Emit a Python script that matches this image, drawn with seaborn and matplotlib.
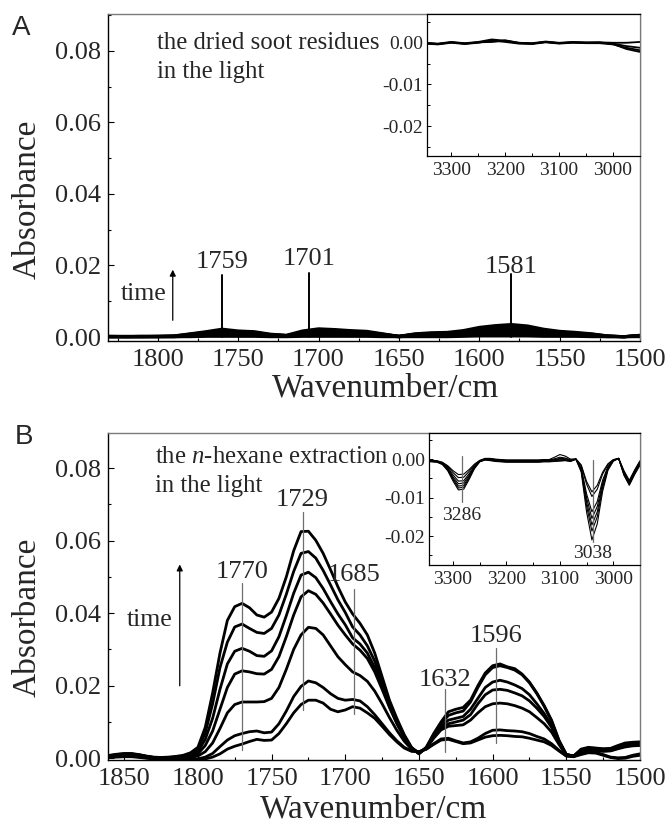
import numpy as np
import matplotlib
matplotlib.use('Agg')
import matplotlib.pyplot as plt
import seaborn as sns
from matplotlib.ticker import MultipleLocator, FormatStrFormatter

sns.set_theme(style='ticks')
plt.rcParams['font.family'] = ['Liberation Serif', 'DejaVu Serif']
plt.rcParams['mathtext.fontset'] = 'custom'
plt.rcParams['mathtext.rm'] = 'Liberation Serif'
plt.rcParams['mathtext.it'] = 'Liberation Serif:italic'
plt.rcParams['axes.unicode_minus'] = False

# ---------------- panel A : dried soot residues (1830 -> 1500, step 10)
wn_a = np.arange(1830, 1499, -10)
soot_curves = [
    [.0002, .0002, .0002, .0002, .0003, .0009, .0015, .0022, .0017, .0015, .0008, .0005, .0017, .0023, .0021, .0018, .0016,
     .0009, .0002, .0009, .0012, .0013, .0018, .0027, .0032, .0035, .0031, .0022, .0016, .0013, .0009, .0003, .0001, .0005],
    [.0002, .0001, .0002, .0002, .0003, .0008, .0013, .0019, .0015, .0013, .0007, .0004, .0014, .0020, .0019, .0016, .0014,
     .0008, .0002, .0008, .0010, .0011, .0016, .0023, .0028, .0030, .0027, .0019, .0014, .0011, .0008, .0003, .0001, .0004],
    [.0001, .0001, .0001, .0002, .0002, .0006, .0011, .0016, .0012, .0011, .0006, .0004, .0011, .0016, .0015, .0013, .0012,
     .0007, .0002, .0007, .0009, .0009, .0013, .0019, .0023, .0025, .0022, .0016, .0012, .0010, .0007, .0002, .0001, .0004],
    [.0001, .0001, .0001, .0001, .0002, .0005, .0008, .0012, .0010, .0008, .0005, .0003, .0009, .0012, .0012, .0010, .0009,
     .0006, .0002, .0006, .0007, .0007, .0010, .0015, .0018, .0019, .0017, .0012, .0009, .0008, .0005, .0002, .0001, .0003],
    [.0001, .0001, .0001, .0001, .0001, .0004, .0006, .0009, .0007, .0006, .0004, .0003, .0006, .0009, .0009, .0007, .0007,
     .0004, .0001, .0004, .0005, .0005, .0007, .0011, .0013, .0014, .0012, .0009, .0007, .0006, .0004, .0002, .0001, .0003],
    [.0001, .0001, .0001, .0001, .0001, .0002, .0004, .0005, .0004, .0004, .0002, .0002, .0004, .0005, .0005, .0004, .0004,
     .0003, .0001, .0003, .0003, .0003, .0004, .0007, .0008, .0008, .0007, .0005, .0004, .0004, .0003, .0001, .0001, .0002],
    [.0001, .0001, .0001, .0001, .0001, .0001, .0002, .0002, .0002, .0002, .0001, .0001, .0002, .0002, .0002, .0002, .0002,
     .0001, .0001, .0001, .0001, .0001, .0002, .0003, .0003, .0003, .0003, .0002, .0002, .0002, .0001, .0001, .0001, .0001],
]
soot_peaks = ['1759', '1701', '1581']
soot_peak_pos = [1760, 1706, 1580]
soot_line_top = [0.0173, 0.0179, 0.0176]
soot_label_y = [0.0210, 0.0218, 0.0196]

# inset A (3350 -> 2950, step 25)
wn_ia = np.arange(3350, 2949, -25)
soot_ch = [
    [0, -.0003, .0001, -.0002, .0001, .0003, .0004, -.0001, -.0002, .0002, -.0001, .0001, .0, .0, -.0002, -.0008, -.0012],
    [-.0002, -.0004, 0, -.0003, .0, .0006, .0002, -.0002, -.0003, .0001, -.0002, .0, -.0001, -.0001, -.0004, -.0012, -.0018],
    [.0, -.0002, .0002, -.0001, .0002, .0008, .0005, .0, -.0001, .0003, .0, .0002, .0001, .0001, -.0003, -.0015, -.0022],
    [-.0001, -.0003, .0001, -.0002, .0001, .0002, .0006, .0, -.0002, .0002, -.0001, .0001, .0, .0001, .0, .0, .0002],
]

# ---------------- panel B : n-hexane extraction (1860 -> 1500, step 5)
wn_b = np.arange(1860, 1499, -5)
hexane_curves = [
    # longest time
    [.0008, .0011, .0013, .0013, .0010, .0006, .0003, .0002, .0003, .0005,
     .0008, .0015, .0030, .0085, .0180, .0290, .0380, .0418, .0427, .0415,
     .0395, .0389, .0403, .0441, .0500, .0572, .0625, .0626, .0601, .0565,
     .0520, .0473, .0431, .0398, .0372, .0340, .0290, .0225, .0160, .0110,
     .0065, .0030, .0013,
     .0030, .0068, .0100, .0128, .0135, .0140, .0160, .0200, .0235, .0255,
     .0260, .0252, .0247, .0232, .0210, .0180, .0145, .0105, .0050, .0010,
     .0006, .0025, .0030, .0028, .0026, .0027, .0035, .0042, .0044, .0045],
    [.0007, .0010, .0012, .0012, .0009, .0005, .0002, .0001, .0002, .0003,
     .0006, .0012, .0025, .0070, .0150, .0250, .0320, .0362, .0370, .0358,
     .0347, .0344, .0358, .0395, .0452, .0515, .0565, .0570, .0552, .0518,
     .0478, .0437, .0402, .0362, .0340, .0310, .0268, .0210, .0150, .0105,
     .0062, .0028, .0012,
     .0030, .0065, .0095, .0118, .0125, .0130, .0155, .0195, .0230, .0250,
     .0255, .0250, .0243, .0230, .0208, .0178, .0143, .0102, .0048, .0010,
     .0006, .0023, .0028, .0027, .0025, .0026, .0033, .0040, .0042, .0043],
    [.0006, .0009, .0011, .0011, .0009, .0005, .0002, .0001, .0001, .0002,
     .0004, .0008, .0018, .0052, .0110, .0190, .0260, .0295, .0303, .0295,
     .0283, .0281, .0296, .0335, .0393, .0455, .0505, .0513, .0498, .0468,
     .0432, .0398, .0368, .0332, .0315, .0290, .0250, .0198, .0143, .0098,
     .0058, .0027, .0013,
     .0028, .0060, .0088, .0105, .0110, .0115, .0135, .0165, .0195, .0210,
     .0215, .0210, .0202, .0192, .0175, .0150, .0123, .0090, .0045, .0010,
     .0006, .0020, .0025, .0025, .0022, .0023, .0030, .0036, .0040, .0040],
    [.0005, .0008, .0010, .0010, .0008, .0004, .0001, .0000, .0000, .0001,
     .0002, .0005, .0012, .0035, .0075, .0135, .0195, .0232, .0241, .0238,
     .0233, .0232, .0245, .0280, .0335, .0395, .0445, .0462, .0452, .0428,
     .0398, .0367, .0340, .0315, .0298, .0275, .0238, .0190, .0140, .0095,
     .0057, .0028, .0015,
     .0028, .0057, .0082, .0095, .0100, .0105, .0120, .0150, .0175, .0188,
     .0190, .0187, .0180, .0172, .0158, .0138, .0115, .0085, .0043, .0010,
     .0006, .0018, .0023, .0023, .0020, .0021, .0027, .0033, .0036, .0037],
    [.0004, .0007, .0008, .0008, .0006, .0003, .0000, -.0001, -.0001, -.0001,
     .0000, .0002, .0006, .0018, .0042, .0082, .0125, .0148, .0155, .0155,
     .0155, .0156, .0165, .0195, .0245, .0300, .0340, .0361, .0358, .0340,
     .0310, .0280, .0258, .0238, .0228, .0212, .0185, .0150, .0112, .0077,
     .0047, .0025, .0016,
     .0027, .0055, .0078, .0088, .0090, .0092, .0105, .0125, .0142, .0150,
     .0152, .0150, .0145, .0138, .0128, .0112, .0095, .0072, .0038, .0008,
     .0005, .0017, .0022, .0022, .0019, .0020, .0026, .0031, .0034, .0035],
    [.0003, .0005, .0006, .0006, .0004, .0001, -.0001, -.0002, -.0002, -.0003,
     -.0003, -.0003, -.0002, .0003, .0013, .0032, .0050, .0062, .0068, .0073,
     .0075, .0070, .0072, .0095, .0130, .0170, .0198, .0213, .0208, .0195,
     .0178, .0165, .0160, .0162, .0158, .0142, .0120, .0095, .0070, .0048,
     .0030, .0020, .0018,
     .0025, .0040, .0053, .0055, .0048, .0042, .0045, .0055, .0068, .0077,
     .0078, .0076, .0075, .0073, .0068, .0060, .0053, .0040, .0022, .0006,
     .0005, .0012, .0018, .0017, .0010, .0003, .0001, .0002, .0008, .0012],
    # shortest time
    [.0002, .0003, .0004, .0004, .0002, .0000, -.0002, -.0003, -.0003, -.0004,
     -.0004, -.0004, -.0004, -.0002, .0003, .0012, .0025, .0033, .0039, .0046,
     .0052, .0049, .0050, .0068, .0095, .0125, .0148, .0160, .0160, .0152,
     .0135, .0128, .0133, .0142, .0138, .0125, .0110, .0088, .0065, .0045,
     .0028, .0019, .0018,
     .0025, .0038, .0050, .0052, .0046, .0040, .0042, .0050, .0058, .0062,
     .0063, .0062, .0060, .0059, .0055, .0050, .0045, .0035, .0020, .0006,
     .0004, .0010, .0015, .0014, .0008, .0002, -.0001, .0000, .0005, .0008],
]
hexane_peaks = ['1770', '1729', '1685', '1632', '1596']
hexane_peak_pos = [1770, 1729, 1694, 1632, 1598]
hexane_line_bottom = [0.0022, 0.0132, 0.0123, 0.0017, 0.0041]
hexane_line_top = [0.0482, 0.0680, 0.0468, 0.0192, 0.0303]
hexane_label_y = [0.0514, 0.0712, 0.0505, 0.0217, 0.0337]

# inset B (3350 -> 2950, step 10)
wn_ib = np.arange(3350, 2949, -10)
hexane_ch = [
    [-.0003, -.0003, -.0004, -.0008, -.0017, -.0030, -.0040, -.0039, -.0027, -.0013, -.0003, .0002, .0002, .0000,
     -.0001, -.0002, -.0002, -.0002, -.0002, -.0002, -.0002, -.0002, -.0001, -.0001, .0005, .0012, .0008, .0000,
     .0001, -.0015, -.0058, -.0085, -.0068, -.0034, -.0012, -.0001, .0002, -.0030, -.0055, -.0028, -.0004],
    [-.0004, -.0004, -.0005, -.0009, -.0019, -.0035, -.0048, -.0047, -.0032, -.0015, -.0004, .0001, .0001, -.0001,
     -.0002, -.0003, -.0003, -.0003, -.0003, -.0003, -.0003, -.0003, -.0002, -.0002, .0001, .0005, .0003, -.0002,
     .0000, -.0017, -.0065, -.0097, -.0078, -.0039, -.0014, -.0002, .0002, -.0032, -.0058, -.0030, -.0006],
    [-.0004, -.0005, -.0006, -.0010, -.0022, -.0041, -.0057, -.0056, -.0038, -.0018, -.0005, .0000, .0000, -.0002,
     -.0003, -.0004, -.0004, -.0004, -.0004, -.0004, -.0004, -.0004, -.0003, -.0003, -.0001, .0002, .0001, -.0003,
     .0000, -.0022, -.0090, -.0137, -.0110, -.0055, -.0019, -.0003, .0002, -.0035, -.0060, -.0032, -.0008],
    [-.0005, -.0005, -.0006, -.0011, -.0024, -.0046, -.0064, -.0062, -.0042, -.0020, -.0005, .0000, -.0001, -.0003,
     -.0004, -.0005, -.0005, -.0005, -.0005, -.0005, -.0005, -.0005, -.0004, -.0004, -.0002, .0000, -.0001, -.0004,
     .0000, -.0025, -.0100, -.0154, -.0123, -.0062, -.0021, -.0004, .0002, -.0037, -.0062, -.0034, -.0010],
    [-.0005, -.0006, -.0007, -.0012, -.0026, -.0050, -.0070, -.0068, -.0046, -.0021, -.0006, -.0001, -.0002, -.0004,
     -.0005, -.0006, -.0006, -.0006, -.0006, -.0006, -.0006, -.0006, -.0005, -.0005, -.0004, -.0002, -.0002, -.0005,
     .0000, -.0027, -.0111, -.0171, -.0137, -.0068, -.0024, -.0004, .0002, -.0039, -.0064, -.0036, -.0012],
    [-.0006, -.0006, -.0007, -.0013, -.0028, -.0053, -.0075, -.0073, -.0049, -.0023, -.0006, -.0002, -.0003, -.0005,
     -.0006, -.0007, -.0007, -.0007, -.0007, -.0007, -.0007, -.0007, -.0006, -.0006, -.0005, -.0004, -.0003, -.0005,
     .0000, -.0030, -.0122, -.0187, -.0150, -.0075, -.0026, -.0005, .0002, -.0040, -.0066, -.0038, -.0014],
    [-.0006, -.0007, -.0008, -.0014, -.0030, -.0057, -.0080, -.0078, -.0053, -.0025, -.0007, -.0002, -.0004, -.0006,
     -.0007, -.0008, -.0008, -.0008, -.0008, -.0008, -.0008, -.0008, -.0007, -.0007, -.0006, -.0005, -.0004, -.0006,
     .0000, -.0034, -.0137, -.0210, -.0168, -.0084, -.0029, -.0005, .0002, -.0042, -.0068, -.0040, -.0016],
]
ch_peaks = ['3286', '3038']
ch_peak_pos = [3284, 3038]
ch_line_span = [(-0.0112, 0.0007), (-0.0214, -0.0002)]
ch_label_y = [-0.0146, -0.0244]

for c in soot_curves:
    assert len(c) == len(wn_a)
for c in soot_ch:
    assert len(c) == len(wn_ia)
for c in hexane_curves:
    assert len(c) == len(wn_b)
for c in hexane_ch:
    assert len(c) == len(wn_ib)


def style_main(ax, xlim, ylim):
    ax.set_xlim(*xlim)
    ax.set_ylim(*ylim)
    ax.xaxis.set_major_locator(MultipleLocator(50))
    ax.xaxis.set_minor_locator(MultipleLocator(25))
    ax.yaxis.set_major_locator(MultipleLocator(0.02))
    ax.yaxis.set_minor_locator(MultipleLocator(0.01))
    ax.yaxis.set_major_formatter(FormatStrFormatter('%.2f'))
    ax.tick_params(which='both', direction='in', top=False, right=False, color='black', width=0.8)
    ax.tick_params(which='major', length=4)
    ax.tick_params(which='minor', length=2.5)
    ax.tick_params(axis='x', labelsize=19, pad=6)
    ax.tick_params(axis='y', labelsize=19, pad=5)
    for s in ['left', 'bottom']:
        ax.spines[s].set_color('black')
        ax.spines[s].set_linewidth(1.0)
    for s in ['top', 'right']:
        ax.spines[s].set_color('#7a7a7a')
        ax.spines[s].set_linewidth(1.0)
    ax.set_ylabel('Absorbance', fontsize=24)
    ax.set_xlabel('Wavenumber/cm', fontsize=24)


def style_inset(ax, ylim):
    ax.set_xlim(3345, 2950)
    ax.set_ylim(*ylim)
    ax.xaxis.set_major_locator(MultipleLocator(100))
    ax.xaxis.set_minor_locator(MultipleLocator(50))
    ax.yaxis.set_major_locator(MultipleLocator(0.01))
    ax.yaxis.set_minor_locator(MultipleLocator(0.005))
    ax.yaxis.set_major_formatter(FormatStrFormatter('%.2f'))
    ax.tick_params(which='both', direction='in', top=False, right=False, color='black', width=0.7)
    ax.tick_params(which='major', length=3)
    ax.tick_params(which='minor', length=2)
    ax.tick_params(axis='x', labelsize=14, pad=4)
    ax.tick_params(axis='y', labelsize=14, pad=3)
    for s in ax.spines.values():
        s.set_color('black')
        s.set_linewidth(0.9)
    ax.spines['right'].set_color('#7a7a7a')
    ax.set_xlabel('')
    ax.set_ylabel('')


fig = plt.figure(figsize=(6.67, 8.26), dpi=100)
ax_a = fig.add_axes([0.1619, 0.5872, 0.7976, 0.3959])
ax_b = fig.add_axes([0.1619, 0.0799, 0.7976, 0.3959])
in_a = fig.add_axes([0.6402, 0.8111, 0.3193, 0.1719])
in_b = fig.add_axes([0.6432, 0.3160, 0.3163, 0.1598])

# ---- panel A
for y in soot_curves:
    sns.lineplot(x=wn_a, y=y, ax=ax_a, color='black', linewidth=2.2, estimator=None)
style_main(ax_a, (1831, 1500), (-0.0011, 0.0903))
ax_a.yaxis.set_label_coords(-0.122, 0.434)
ax_a.xaxis.set_label_coords(0.522, -0.098)
for lab, xp, top, ly in zip(soot_peaks, soot_peak_pos, soot_line_top, soot_label_y):
    ax_a.plot([xp, xp], [0, top], color='black', lw=1.4)
    ax_a.text(xp, ly, lab, ha='center', va='center', fontsize=19)
ax_a.annotate('', xy=(1790.7, 0.0196), xytext=(1790.7, 0.0039),
              arrowprops=dict(arrowstyle='-|>', color='black', lw=0.9, mutation_scale=9))
ax_a.text(1808.7, 0.0120, 'time', ha='center', va='center', fontsize=18.5)
ax_a.text(1800.6, 0.0822, 'the dried soot residues', ha='left', va='center', fontsize=17.8)
ax_a.text(1800.6, 0.0741, 'in the light', ha='left', va='center', fontsize=17.8)

for y in soot_ch:
    sns.lineplot(x=wn_ia, y=y, ax=in_a, color='black', linewidth=1.3, estimator=None)
style_inset(in_a, (-0.0272, 0.0069))

# ---- panel B
for y in hexane_curves:
    sns.lineplot(x=wn_b, y=y, ax=ax_b, color='black', linewidth=2.0, estimator=None)
style_main(ax_b, (1861, 1500), (-0.0005, 0.0897))
ax_b.yaxis.set_label_coords(-0.122, 0.435)
ax_b.xaxis.set_label_coords(0.5, -0.104)
for lab, xp, bot, top, ly in zip(hexane_peaks, hexane_peak_pos, hexane_line_bottom, hexane_line_top, hexane_label_y):
    ax_b.plot([xp, xp], [bot, top], color='#6e6e6e', lw=0.9)
    ax_b.text(xp, ly, lab, ha='center', va='center', fontsize=19)
ax_b.annotate('', xy=(1812.3, 0.0542), xytext=(1812.3, 0.0192),
              arrowprops=dict(arrowstyle='-|>', color='black', lw=0.9, mutation_scale=9))
ax_b.text(1832.6, 0.0380, 'time', ha='center', va='center', fontsize=18.5)
ax_b.text(1829, 0.0831, 'the $\\it{n}$-hexane extraction', ha='left', va='center', fontsize=17.8)
ax_b.text(1829, 0.0750, 'in the light', ha='left', va='center', fontsize=17.8)

for y in hexane_ch:
    sns.lineplot(x=wn_ib, y=y, ax=in_b, color='black', linewidth=0.8, estimator=None)
style_inset(in_b, (-0.0275, 0.0068))
for lab, xp, (lo, hi), ly in zip(ch_peaks, ch_peak_pos, ch_line_span, ch_label_y):
    in_b.plot([xp, xp], [lo, hi], color='#6e6e6e', lw=0.9)
    in_b.text(xp, ly, lab, ha='center', va='center', fontsize=14)

fig.text(0.018, 0.966, 'A', fontsize=20, family='Liberation Sans', va='center', ha='left')
fig.text(0.022, 0.471, 'B', fontsize=20, family='Liberation Sans', va='center', ha='left')

fig.savefig('out.png', dpi=100)
